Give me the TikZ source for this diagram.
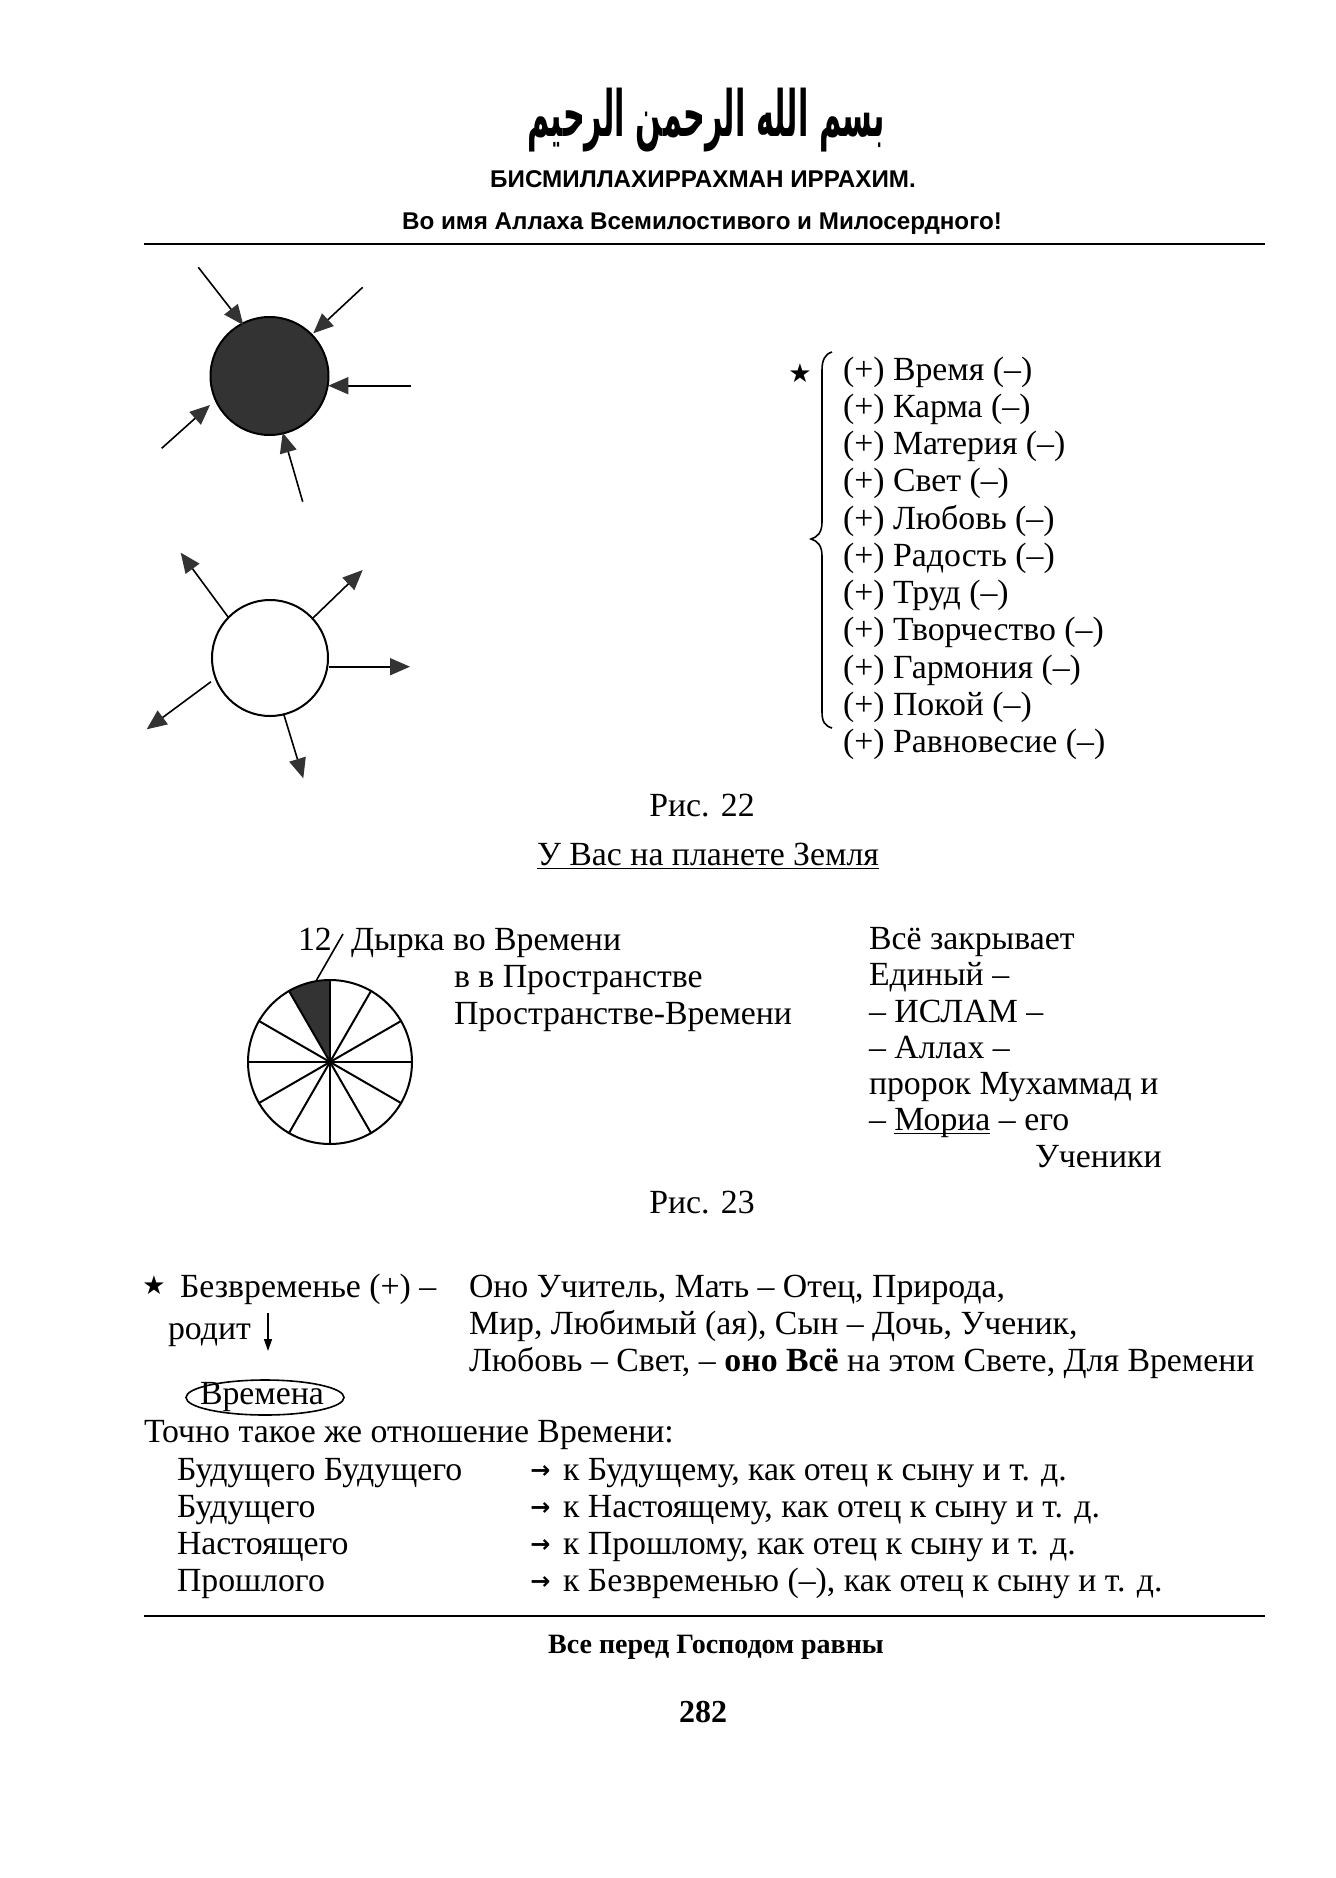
\documentclass[tikz,border=0pt]{standalone}
\usepackage{fontspec}
\usepackage{graphicx}
\setmainfont{Liberation Serif}
\newfontfamily\hdrfont{Liberation Sans}
\newfontfamily\symfont{DejaVu Sans}
\newfontfamily\arabicfont[Script=Arabic]{DejaVu Sans}
\TeXXeTstate=1
\usetikzlibrary{arrows.meta,shapes.geometric}
\newcommand\bodysz{\fontsize{16.9pt}{18.6pt}\selectfont}
\newcommand\lowline[1]{\setbox0\hbox{#1}\rlap{\rule[-2pt]{\wd0}{0.7pt}}\box0\relax}
\definecolor{darkfill}{HTML}{333333}
\tikzset{
  txt/.style={anchor=base west, inner sep=0pt, outer sep=0pt, font=\bodysz},
  ctxt/.style={anchor=base, inner sep=0pt, outer sep=0pt, font=\bodysz},
  raylink/.style={line width=0.8pt, -{Triangle[length=10pt,width=8.5pt,color=darkfill]}},
  rulestyle/.style={line width=1.1pt},
  arrglyph/.style={anchor=base west, inner sep=0pt, font=\symfont\bfseries\fontsize{12pt}{14pt}\selectfont},
  starglyph/.style={inner sep=0pt, font=\symfont\fontsize{13pt}{14pt}\selectfont},
}
\begin{document}
\begin{tikzpicture}[x=0.5pt,y=-0.5pt]
\useasboundingbox[fill=white] (0,0) rectangle (1335,1878);

% ---------- header ----------
\node (bism) at (706,120) {\resizebox*{179pt}{32pt}{\arabicfont\bfseries\beginR بسم الله الرحمن الرحيم\endR}};
\node[anchor=base, inner sep=0pt, font=\hdrfont\bfseries\fontsize{12.1pt}{14pt}\selectfont] (head1) at (703,188) {БИСМИЛЛАХИРРАХМАН ИРРАХИМ.};
\node[anchor=base, inner sep=0pt, font=\hdrfont\bfseries\fontsize{12.1pt}{14pt}\selectfont] (head2) at (702,229) {Во имя Аллаха Всемилостивого и Милосердного!};
\coordinate (r1a) at (144,244); \coordinate (r1b) at (1265,244);
\draw[rulestyle] (r1a) -- (r1b);

% ---------- Fig 22: dark sun ----------
\node (dark) [circle, draw, line width=1pt, fill=darkfill, minimum size=59pt, inner sep=0pt] at (269.5,376) {};
\coordinate (d1s) at (198.3,267.3); \coordinate (d1e) at (243.3,325);
\coordinate (d2s) at (362.7,287.3); \coordinate (d2e) at (313.3,333.3);
\coordinate (d3s) at (410.7,385.7); \coordinate (d3e) at (328.3,385.7);
\coordinate (d4s) at (161.7,448.3); \coordinate (d4e) at (210,405);
\coordinate (d5s) at (302.7,501.7); \coordinate (d5e) at (282.7,432.7);
\foreach \k in {1,...,5} \draw[raylink] (d\k s) -- (d\k e);

% ---------- white sun ----------
\node (white) [circle, draw, line width=1pt, fill=white, minimum size=58pt, inner sep=0pt] at (270,658) {};
\coordinate (w1s) at (228.3,617.3); \coordinate (w1e) at (180.7,552.7);
\coordinate (w2s) at (312.7,618.3); \coordinate (w2e) at (362.7,570);
\coordinate (w3s) at (329.3,666.7); \coordinate (w3e) at (410,666.7);
\coordinate (w4s) at (211,681.7);   \coordinate (w4e) at (146.7,729.3);
\coordinate (w5s) at (284,715);     \coordinate (w5e) at (303.3,778.3);
\foreach \k in {1,...,5} \draw[raylink] (w\k s) -- (w\k e);

% ---------- list ----------
\node[starglyph] (star1) at (800,373) {★};
\draw[line width=0.8pt] (832,352) .. controls (825,354) and (822,360) .. (822,370) -- (822,522)
  .. controls (822,532) and (818,537) .. (811,539)
  .. controls (818,541) and (822,546) .. (822,556) -- (822,712)
  .. controls (822,722) and (825,726) .. (832,728);
\node[txt] (L0) at (843,380) {(+) Время (–)};
\node[txt] (L1) at (843,417.3) {(+) Карма (–)};
\node[txt] (L2) at (843,454.5) {(+) Материя (–)};
\node[txt] (L3) at (843,491.8) {(+) Свет (–)};
\node[txt] (L4) at (843,529.1) {(+) Любовь (–)};
\node[txt] (L5) at (843,566.4) {(+) Радость (–)};
\node[txt] (L6) at (843,603.6) {(+) Труд (–)};
\node[txt] (L7) at (843,640.9) {(+) Творчество (–)};
\node[txt] (L8) at (843,678.2) {(+) Гармония (–)};
\node[txt] (L9) at (843,715.4) {(+) Покой (–)};
\node[txt] (L10) at (843,752.7) {(+) Равновесие (–)};

\node[ctxt] (fig22) at (702,816) {Рис. 22};
\node[ctxt] (title23) at (708,865) {\lowline{У Вас на планете Земля}};

% ---------- Fig 23: pie ----------
\coordinate (pc) at (330,1062);
\fill[darkfill] (pc) -- ++(90:41pt) arc[start angle=90, end angle=120, radius=41pt] -- cycle;
\node (pie) [circle, draw, line width=1pt, minimum size=82pt, inner sep=0pt] at (pc) {};
\foreach \a in {0,30,...,330} \draw[line width=1pt] (pie.center) -- (pie.\a);
\coordinate (lead1) at (316,981); \coordinate (lead2) at (343,934);
\draw[line width=0.8pt] (lead1) -- (lead2);
\node[txt] (n12) at (298,950) {12};
\node[txt] (hole1) at (351,950) {Дырка во Времени};
\node[txt] (hole2) at (454,987) {в в Пространстве};
\node[txt] (hole3) at (454,1024) {Пространстве-Времени};

\node[txt] (R1) at (869,949) {Всё закрывает};
\node[txt] (R2) at (869,985) {Единый –};
\node[txt] (R3) at (869,1022) {– ИСЛАМ –};
\node[txt] (R4) at (869,1058) {– Аллах –};
\node[txt] (R5) at (869,1094) {пророк Мухаммад и};
\node[txt] (R6) at (869,1130) {– \lowline{Мориа} – его};
\node[txt] (R7) at (1035,1167) {Ученики};

\node[ctxt] (fig23) at (702,1213) {Рис. 23};

% ---------- lower text ----------
\node[starglyph] (star2) at (154,1285) {★};
\node[txt] (bz) at (180,1297) {Безвременье (+) –};
\node[txt] (rod) at (168,1339) {родит};
\coordinate (da1) at (268,1313); \coordinate (da2) at (268,1351);
\draw[line width=0.7pt, -{Triangle[length=6pt,width=4pt]}] (da1) -- (da2);
\node[txt] (P1) at (469,1297) {Оно Учитель, Мать – Отец, Природа,};
\node[txt] (P2) at (469,1334) {Мир, Любимый (ая), Сын – Дочь, Ученик,};
\node[txt] (P3) at (469,1371) {Любовь – Свет, – \textbf{оно Всё} на этом Свете, Для Времени};
\node (vrem) [ellipse, draw, line width=0.8pt, minimum width=79pt, minimum height=17.5pt, inner sep=0pt] at (265,1397.5) {};
\node[ctxt] (vremt) at (262,1404) {Времена};

\node[txt] (toch) at (144,1442) {Точно такое же отношение Времени:};
\node[txt] (A1) at (177,1480) {Будущего Будущего};
\node[txt] (A2) at (177,1517) {Будущего};
\node[txt] (A3) at (177,1554) {Настоящего};
\node[txt] (A4) at (177,1591) {Прошлого};
\node[arrglyph] (g1) at (530,1480) {\raisebox{0.8pt}{→}};
\node[arrglyph] (g2) at (530,1517) {\raisebox{0.8pt}{→}};
\node[arrglyph] (g3) at (530,1554) {\raisebox{0.8pt}{→}};
\node[arrglyph] (g4) at (530,1591) {\raisebox{0.8pt}{→}};
\node[txt] (B1) at (563,1480) {к Будущему, как отец к сыну и т. д.};
\node[txt] (B2) at (563,1517) {к Настоящему, как отец к сыну и т. д.};
\node[txt] (B3) at (563,1554) {к Прошлому, как отец к сыну и т. д.};
\node[txt] (B4) at (563,1591) {к Безвременью (–), как отец к сыну и т. д.};

% ---------- footer ----------
\coordinate (r2a) at (144,1616); \coordinate (r2b) at (1265,1616);
\draw[rulestyle] (r2a) -- (r2b);
\node[anchor=base, inner sep=0pt, font=\bfseries\fontsize{14pt}{16pt}\selectfont] (foot) at (716,1653) {Все перед Господом равны};
\node[anchor=base, inner sep=0pt, font=\bfseries\fontsize{16pt}{18pt}\selectfont] (pnum) at (703,1722) {282};
\end{tikzpicture}
\end{document}
